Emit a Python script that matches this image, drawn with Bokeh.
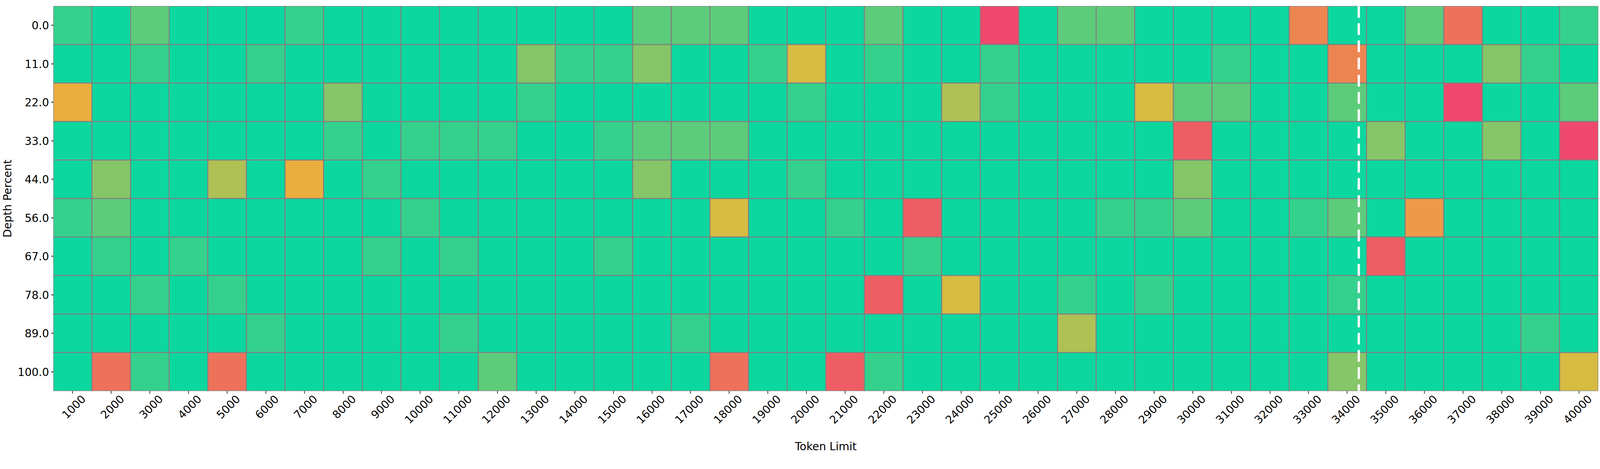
import numpy as np
import pandas as pd
from bokeh.plotting import figure
from bokeh.models import (ColumnDataSource, LinearColorMapper, FixedTicker, Span,
                          LinearAxis, Range1d, FactorRange)
from bokeh.transform import transform
from bokeh.embed import file_html
from bokeh.resources import INLINE

### Données : score par profondeur (ligne) et limite de tokens (colonne)

token_limits = [1000, 2000, 3000, 4000, 5000, 6000, 7000, 8000, 9000, 10000,
                11000, 12000, 13000, 14000, 15000, 16000, 17000, 18000, 19000, 20000,
                21000, 22000, 23000, 24000, 25000, 26000, 27000, 28000, 29000, 30000,
                31000, 32000, 33000, 34000, 35000, 36000, 37000, 38000, 39000, 40000]

depth_percents = [0.0, 11.0, 22.0, 33.0, 44.0, 56.0, 67.0, 78.0, 89.0, 100.0]

d0 = [10, 11, 9, 11, 11, 11, 10, 11, 11, 11, 11, 11, 11, 11, 11, 9, 9, 9, 11, 11,
      11, 9, 11, 11, 0, 11, 9, 9, 11, 11, 11, 11, 3, 11, 11, 9, 2, 11, 11, 10]
d11 = [11, 11, 10, 11, 11, 10, 11, 11, 11, 11, 11, 11, 8, 10, 10, 8, 11, 11, 10, 6,
       11, 10, 11, 11, 10, 11, 11, 11, 11, 11, 10, 11, 11, 3, 11, 11, 11, 8, 10, 11]
d22 = [5, 11, 11, 11, 11, 11, 11, 8, 11, 11, 11, 11, 10, 11, 11, 11, 11, 11, 11, 10,
       11, 11, 11, 7, 10, 11, 11, 11, 6, 9, 9, 11, 11, 9, 11, 11, 0, 11, 11, 9]
d33 = [11, 11, 11, 11, 11, 11, 11, 10, 11, 10, 10, 10, 11, 11, 10, 9, 9, 9, 11, 11,
       11, 11, 11, 11, 11, 11, 11, 11, 11, 1, 11, 11, 11, 11, 8, 11, 11, 8, 11, 0]
d44 = [11, 8, 11, 11, 7, 11, 5, 11, 10, 11, 11, 11, 11, 11, 11, 8, 11, 11, 11, 10,
       11, 11, 11, 11, 11, 11, 11, 11, 11, 8, 11, 11, 11, 11, 11, 11, 11, 11, 11, 11]
d56 = [10, 9, 11, 11, 11, 11, 11, 11, 11, 10, 11, 11, 11, 11, 11, 11, 11, 6, 11, 11,
       10, 11, 1, 11, 11, 11, 11, 10, 10, 9, 11, 11, 10, 9, 11, 4, 11, 11, 11, 11]
d67 = [11, 10, 11, 10, 11, 11, 11, 11, 10, 11, 10, 11, 11, 11, 10, 11, 11, 11, 11, 11,
       11, 11, 10, 11, 11, 11, 11, 11, 11, 11, 11, 11, 11, 11, 1, 11, 11, 11, 11, 11]
d78 = [11, 11, 10, 11, 10, 11, 11, 11, 11, 11, 11, 11, 11, 11, 11, 11, 11, 11, 11, 11,
       11, 1, 11, 6, 11, 11, 10, 11, 10, 11, 11, 11, 11, 10, 11, 11, 11, 11, 11, 11]
d89 = [11, 11, 11, 11, 11, 10, 11, 11, 11, 11, 10, 11, 11, 11, 11, 11, 10, 11, 11, 11,
       11, 11, 11, 11, 11, 11, 7, 11, 11, 11, 11, 11, 11, 11, 11, 11, 11, 11, 10, 11]
d100 = [11, 2, 10, 11, 2, 11, 11, 11, 11, 11, 11, 9, 11, 11, 11, 11, 11, 2, 11, 11,
        1, 10, 11, 11, 11, 11, 11, 11, 11, 11, 11, 11, 11, 8, 11, 11, 11, 11, 11, 6]

score_rows = [d0, d11, d22, d33, d44, d56, d67, d78, d89, d100]
score_min, score_max = 0, 11

marker_token = 34300  # ligne pointillée blanche

### Palette (rouge -> jaune -> vert)

def make_palette(stops, n=256):
    rgb = np.array([[int(c[i:i + 2], 16) for i in (1, 3, 5)] for c in stops], dtype=float)
    pos = np.linspace(0, 1, len(stops))
    t = np.linspace(0, 1, n)
    cols = np.stack([np.interp(t, pos, rgb[:, k]) for k in range(3)], axis=1)
    return ["#%02x%02x%02x" % tuple(int(round(v)) for v in c) for c in cols]

palette = make_palette(["#F0496E", "#EBB839", "#0CD79F"])
mapper = LinearColorMapper(palette=palette, low=score_min, high=score_max)

### Mise en forme longue

depth_labels = ["%.1f" % d for d in depth_percents]
rows = []
for lab, scores in zip(depth_labels, score_rows):
    for tok, s in zip(token_limits, scores):
        rows.append({"token": tok, "depth": lab, "score": s})
source = ColumnDataSource(pd.DataFrame(rows))

FONT = "DejaVu Sans"
FS = "28px"
shift = 280  # décalage des étiquettes x pour les centrer sous le tick

p = figure(sizing_mode="stretch_width", height=1167,
           x_range=Range1d(500, 40500),
           y_range=FactorRange(factors=list(reversed(depth_labels))),
           output_backend="svg", toolbar_location=None,
           min_border_left=128, min_border_top=15, min_border_right=5,
           min_border_bottom=167)
p.outline_line_color = None
p.xgrid.grid_line_color = None
p.ygrid.grid_line_color = None

p.rect(x="token", y="depth", width=1000, height=1, source=source,
       fill_color=transform("score", mapper), line_color="grey", line_width=2.5)

p.add_layout(Span(location=marker_token, dimension="height", line_color="white",
                  line_width=6, line_dash="30 14"))

# axe x : ticks seuls (étiquettes non dessinées)
xa = p.xaxis[0]
xa.ticker = FixedTicker(ticks=token_limits)
xa.major_label_text_color = None
xa.major_label_text_font_size = "1px"
xa.major_label_standoff = 0
xa.major_tick_out = 7
xa.major_tick_in = 0
xa.minor_tick_line_color = None
xa.axis_line_color = None
xa.major_tick_line_color = "black"
xa.major_tick_line_width = 1.5

# axe x : étiquettes tournées, décalées, et titre
p.extra_x_ranges = {"lab": Range1d(500 - shift, 40500 - shift)}
la = LinearAxis(x_range_name="lab", ticker=FixedTicker(ticks=token_limits),
                major_label_overrides={t: str(t) for t in token_limits},
                major_label_orientation=np.pi / 4,
                axis_label="Token Limit")
la.major_tick_out = 0
la.major_tick_in = 0
la.minor_tick_line_color = None
la.major_tick_line_color = None
la.axis_line_color = None
la.major_label_standoff = 8
la.major_label_text_font = FONT
la.major_label_text_font_size = FS
la.major_label_text_color = "black"
la.axis_label_text_font = FONT
la.axis_label_text_font_size = FS
la.axis_label_text_font_style = "normal"
la.axis_label_text_color = "black"
la.axis_label_standoff = 30
p.add_layout(la, "below")

ya = p.yaxis[0]
ya.axis_label = "Depth Percent"
ya.major_tick_out = 5
ya.major_tick_in = 0
ya.axis_line_color = None
ya.major_tick_line_color = "black"
ya.major_tick_line_width = 2
ya.major_label_standoff = 6
ya.major_label_text_font = FONT
ya.major_label_text_font_size = FS
ya.major_label_text_color = "black"
ya.axis_label_text_font = FONT
ya.axis_label_text_font_size = FS
ya.axis_label_text_font_style = "normal"
ya.axis_label_text_color = "black"
ya.axis_label_standoff = 6

open("out.html", "w").write(file_html(p, INLINE))
